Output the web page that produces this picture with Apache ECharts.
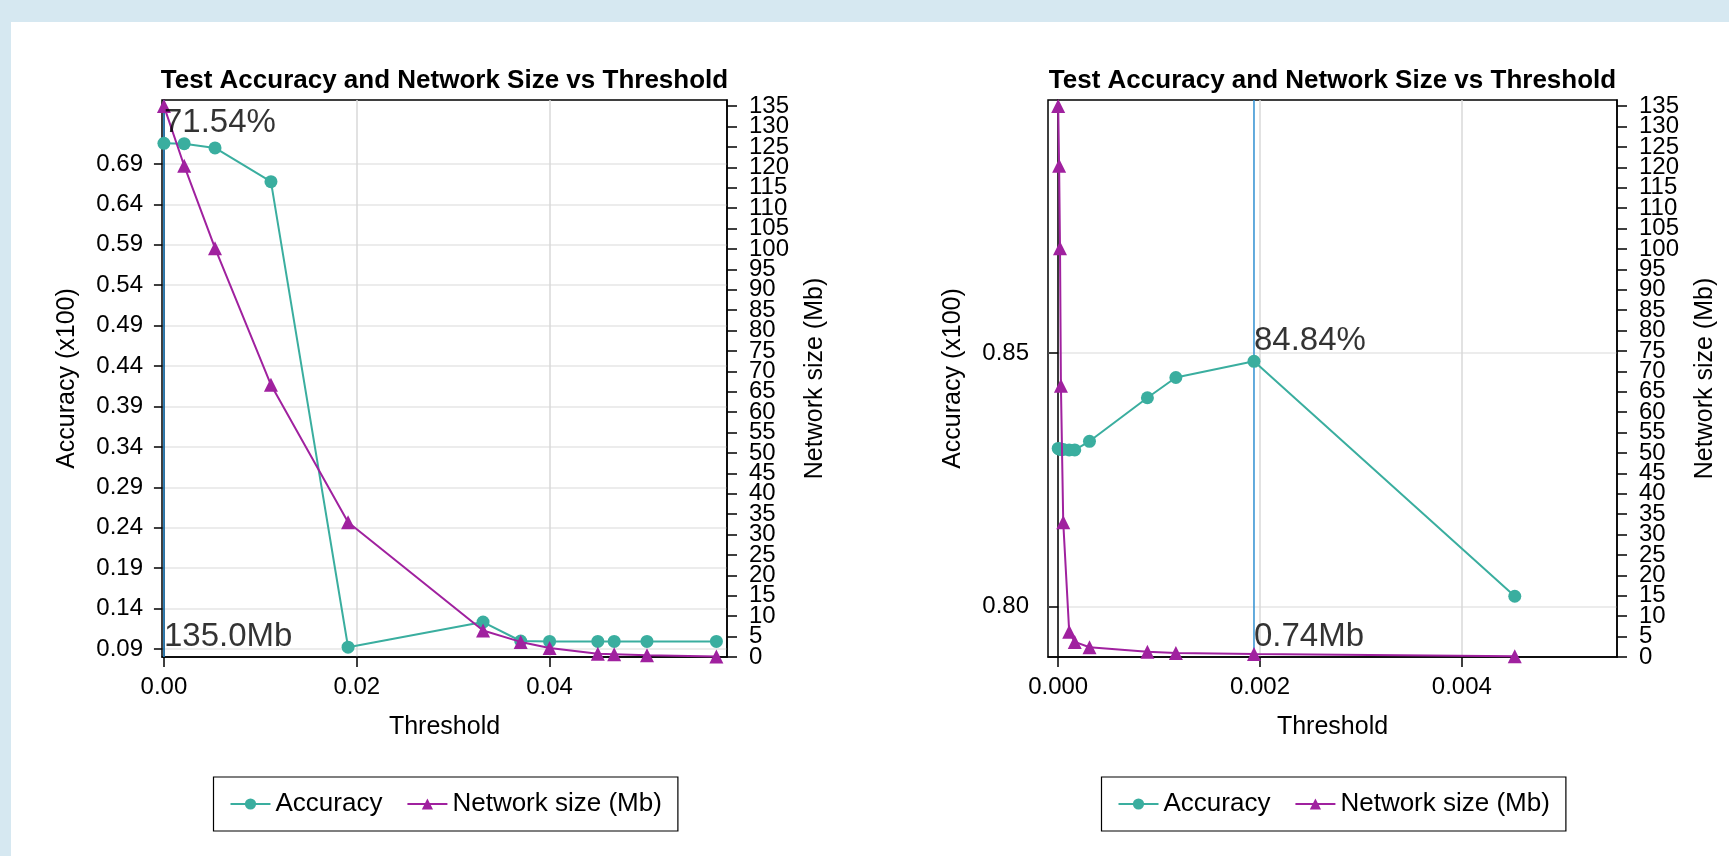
<!DOCTYPE html>
<html>
<head>
<meta charset="utf-8">
<script src="https://cdn.jsdelivr.net/npm/echarts@6/dist/echarts.min.js"></script>
<style>
  html, body { margin: 0; padding: 0; background: #d6e8f1; }
  #paper { position: absolute; left: 11px; top: 22px; width: 1718px; height: 834px; background: #ffffff; }
  #chart { position: absolute; left: 0; top: 0; width: 1729px; height: 856px; }
</style>
</head>
<body>
<div id="paper"></div>
<div id="chart"></div>
<script>
// Sweep over a coarse range of pruning thresholds
const coarseThreshold = [0, 0.0021, 0.0053, 0.0111, 0.0191, 0.0331, 0.0370, 0.0400, 0.0450, 0.0467, 0.0501, 0.0573];
const coarseAccuracy  = [0.7154, 0.7150, 0.7097, 0.6680, 0.0923, 0.1234, 0.1000, 0.0995, 0.0995, 0.0995, 0.0995, 0.0995];
const coarseSizeMb    = [135.0, 120.4, 100.2, 66.7, 33.0, 6.5, 3.7, 2.2, 0.8, 0.7, 0.4, 0.1];

// Sweep over a fine range of pruning thresholds
const fineThreshold = [0, 0.000009, 0.000018, 0.000027, 0.00005, 0.000109, 0.000164, 0.00031, 0.000884, 0.001166, 0.00194, 0.004524];
const fineAccuracy  = [0.8312, 0.8311, 0.8311, 0.8310, 0.8310, 0.8309, 0.8309, 0.8326, 0.8412, 0.8452, 0.8484, 0.8020];
const fineSizeMb    = [135.0, 120.4, 100.2, 66.5, 33.0, 6.2, 3.7, 2.4, 1.3, 1.0, 0.74, 0.2];

// Tick values
const coarseXTicks = [0, 0.02, 0.04];
const coarseAccTicks = [0.09, 0.14, 0.19, 0.24, 0.29, 0.34, 0.39, 0.44, 0.49, 0.54, 0.59, 0.64, 0.69];
const fineXTicks = [0, 0.002, 0.004];
const fineAccTicks = [0.80, 0.85];
const sizeTicks = [0,5,10,15,20,25,30,35,40,45,50,55,60,65,70,75,80,85,90,95,100,105,110,115,120,125,130,135];

const TITLE = 'Test Accuracy and Network Size vs Threshold';
const TEAL = '#3aae9f';
const PURPLE = '#a0219f';
const VLINE = '#2f8fd2';
const FONT = '"Liberation Sans", Arial, Helvetica, sans-serif';

const zip = (xs, ys) => xs.map((x, i) => [x, ys[i]]);
const bestIndex = acc => acc.reduce((b, v, i) => (v > acc[b] ? i : b), 0);
// the size labels are packed tightly, so they are split over two stacked label rows
const sizeTicksEven = sizeTicks.filter((v, i) => i % 2 === 0);
const sizeTicksOdd = sizeTicks.filter((v, i) => i % 2 === 1);

const panels = [
  { left: 162, width: 565, xr: [-0.0002, 0.0584], accr: [0.0802, 0.769], xt: coarseXTicks, xd: 2, at: coarseAccTicks,
    thr: coarseThreshold, acc: coarseAccuracy, size: coarseSizeMb },
  { left: 1048, width: 569, xr: [-0.000101, 0.005537], accr: [0.790, 0.900], xt: fineXTicks, xd: 3, at: fineAccTicks,
    thr: fineThreshold, acc: fineAccuracy, size: fineSizeMb }
];
const SIZE_MAX = 136.5;

const grid = [], xAxis = [], yAxis = [], series = [], title = [], legend = [];

panels.forEach((p, k) => {
  const cx = p.left + p.width / 2;
  grid.push({ left: p.left, top: 100, width: p.width, height: 557, show: true,
              borderColor: '#000', borderWidth: 1.5, backgroundColor: '#fff' });
  title.push({ text: TITLE, left: cx, top: 68, textAlign: 'center', padding: 0,
               textStyle: { fontFamily: FONT, fontWeight: 'bold', fontSize: 26, color: '#000' } });
  legend.push({ left: cx - 231, top: 777, orient: 'horizontal',
                data: ['Accuracy', 'Network size (Mb)'],
                borderColor: '#000', borderWidth: 1.2, padding: [14, 16], itemGap: 24,
                itemWidth: 40, itemHeight: 14, selectedMode: false,
                textStyle: { fontFamily: FONT, fontSize: 26, color: '#000' } });

  xAxis.push({ type: 'value', gridIndex: k, min: p.xr[0], max: p.xr[1],
    name: 'Threshold', nameLocation: 'middle', nameGap: 58,
    nameTextStyle: { fontFamily: FONT, fontSize: 25, color: '#000' },
    axisLine: { show: true, lineStyle: { color: '#000', width: 1.5 } },
    axisTick: { show: true, length: 10, customValues: p.xt, lineStyle: { color: '#000', width: 1.5 } },
    axisLabel: { customValues: p.xt, margin: 18, formatter: v => v.toFixed(p.xd),
                 fontFamily: FONT, fontSize: 24, color: '#000' },
    splitLine: { show: true, lineStyle: { color: '#d9d9d9', width: 1.5 } } });

  // accuracy axis (left)
  yAxis.push({ type: 'value', gridIndex: k, position: 'left', min: p.accr[0], max: p.accr[1],
    name: 'Accuracy (x100)', nameLocation: 'middle', nameGap: 82,
    nameTextStyle: { fontFamily: FONT, fontSize: 25, color: '#000' },
    axisLine: { show: true, lineStyle: { color: '#000', width: 1.5 } },
    axisTick: { show: true, length: 10, customValues: p.at, lineStyle: { color: '#000', width: 1.5 } },
    axisLabel: { customValues: p.at, margin: 19, formatter: v => v.toFixed(2),
                 showMinLabel: true, showMaxLabel: true,
                 fontFamily: FONT, fontSize: 24, color: '#000' },
    splitLine: { show: true, lineStyle: { color: '#e6e6e6', width: 1.5 } } });

  // network size axis (right): line, all ticks, and every other label
  yAxis.push({ type: 'value', gridIndex: k, position: 'right', min: 0, max: SIZE_MAX,
    name: 'Network size (Mb)', nameLocation: 'middle', nameGap: 76, nameRotate: 90,
    nameTextStyle: { fontFamily: FONT, fontSize: 25, color: '#000' },
    axisLine: { show: true, lineStyle: { color: '#000', width: 1.5 } },
    axisTick: { show: true, length: 10, customValues: sizeTicks, lineStyle: { color: '#000', width: 1.5 } },
    axisLabel: { customValues: sizeTicksEven, margin: 22, fontFamily: FONT, fontSize: 24, color: '#000',
                 showMinLabel: true, showMaxLabel: true },
    splitLine: { show: false } });
  // the remaining network size labels
  yAxis.push({ type: 'value', gridIndex: k, position: 'right', min: 0, max: SIZE_MAX,
    axisLine: { show: false }, axisTick: { show: false },
    axisLabel: { customValues: sizeTicksOdd, margin: 22, fontFamily: FONT, fontSize: 24, color: '#000',
                 showMinLabel: true, showMaxLabel: true },
    splitLine: { show: false } });

  const b = bestIndex(p.acc);
  const bestThr = p.thr[b], bestAcc = p.acc[b], bestSize = p.size[b];

  // vertical marker at the threshold with the best accuracy
  series.push({ type: 'line', xAxisIndex: k, yAxisIndex: 3 * k, silent: true, z: 2,
    data: [[bestThr, p.accr[0]], [bestThr, p.accr[1]]], symbol: 'none',
    lineStyle: { color: VLINE, width: 1.5 } });

  series.push({ name: 'Accuracy', type: 'line', xAxisIndex: k, yAxisIndex: 3 * k,
    data: zip(p.thr, p.acc), symbol: 'circle', symbolSize: 13, showAllSymbol: true,
    itemStyle: { color: TEAL }, lineStyle: { color: TEAL, width: 2 }, z: 3 });
  series.push({ name: 'Network size (Mb)', type: 'line', xAxisIndex: k, yAxisIndex: 3 * k + 1,
    data: zip(p.thr, p.size), symbol: 'triangle', symbolSize: 14, showAllSymbol: true,
    itemStyle: { color: PURPLE }, lineStyle: { color: PURPLE, width: 2 }, z: 4 });

  // best accuracy annotation
  series.push({ type: 'scatter', xAxisIndex: k, yAxisIndex: 3 * k, symbolSize: 0, silent: true, z: 6,
    data: [[bestThr, bestAcc]],
    label: { show: true, position: [0, -4], align: 'left', verticalAlign: 'bottom',
             formatter: () => (bestAcc * 100).toFixed(2) + '%',
             fontFamily: FONT, fontSize: 33, color: '#000' } });
  // network size at best accuracy, written along the bottom
  series.push({ type: 'scatter', xAxisIndex: k, yAxisIndex: 3 * k + 1, symbolSize: 0, silent: true, z: 6,
    data: [[bestThr, 0, bestSize]],
    label: { show: true, position: [0, -4], align: 'left', verticalAlign: 'bottom',
             formatter: prm => (prm.value[2] >= 100 ? prm.value[2].toFixed(1) : prm.value[2].toFixed(2)) + 'Mb',
             fontFamily: FONT, fontSize: 33, color: '#000' } });
});

const chart = echarts.init(document.getElementById('chart'), null, { renderer: 'canvas' });
chart.setOption({ backgroundColor: 'transparent', animation: false, title, legend, grid, xAxis, yAxis, series });
</script>
</body>
</html>
